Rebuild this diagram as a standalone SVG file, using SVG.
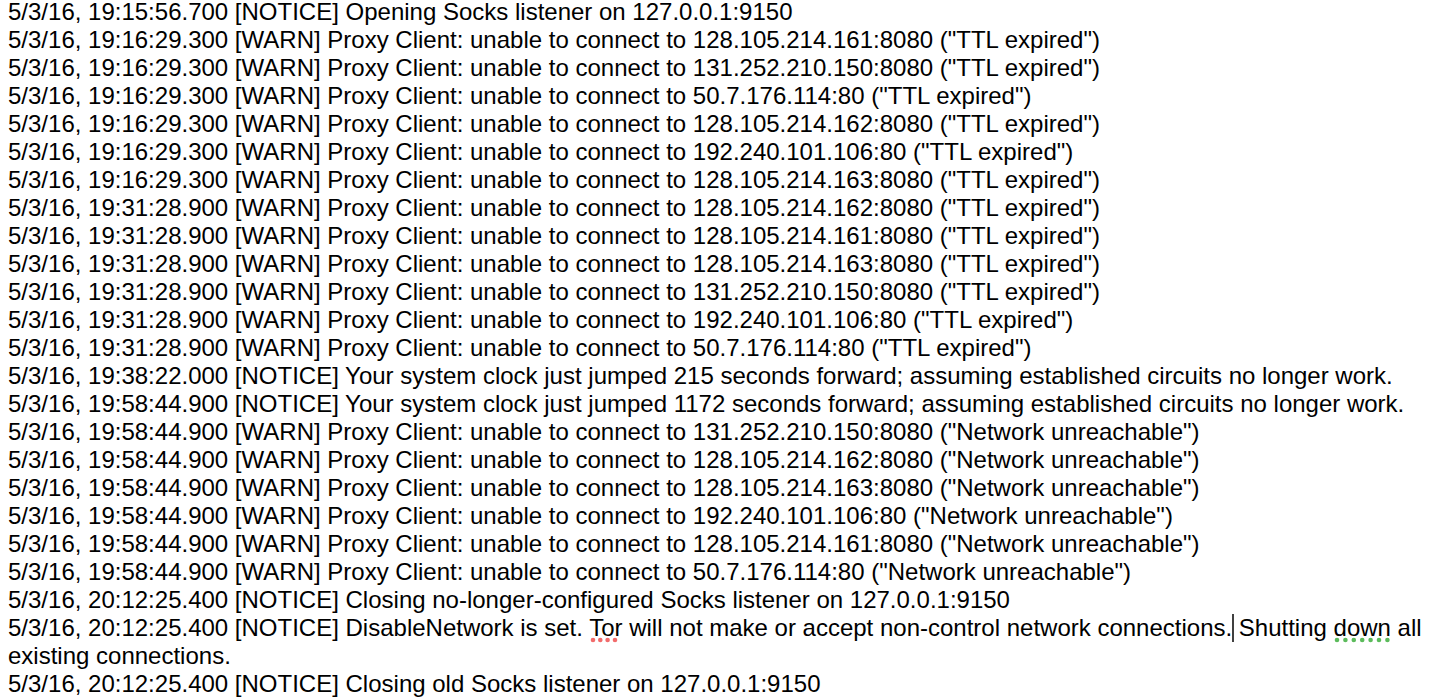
<svg xmlns="http://www.w3.org/2000/svg" width="1440" height="698" viewBox="0 0 1440 698">
<style>
text{font-family:"Liberation Sans",Arial,Helvetica,sans-serif;font-size:24px;fill:#000}
.r{fill:#f26b6b}
.g{fill:#5bbb5b}
</style>
<rect width="1440" height="698" fill="#fff"/>
<g id="log">
<text x="8" y="20">5/3/16, 19:15:56.700 [NOTICE] Opening Socks listener on 127.0.0.1:9150</text>
<text x="8" y="48">5/3/16, 19:16:29.300 [WARN] Proxy Client: unable to connect to 128.105.214.161:8080 ("TTL expired")</text>
<text x="8" y="76">5/3/16, 19:16:29.300 [WARN] Proxy Client: unable to connect to 131.252.210.150:8080 ("TTL expired")</text>
<text x="8" y="104">5/3/16, 19:16:29.300 [WARN] Proxy Client: unable to connect to 50.7.176.114:80 ("TTL expired")</text>
<text x="8" y="132">5/3/16, 19:16:29.300 [WARN] Proxy Client: unable to connect to 128.105.214.162:8080 ("TTL expired")</text>
<text x="8" y="160">5/3/16, 19:16:29.300 [WARN] Proxy Client: unable to connect to 192.240.101.106:80 ("TTL expired")</text>
<text x="8" y="188">5/3/16, 19:16:29.300 [WARN] Proxy Client: unable to connect to 128.105.214.163:8080 ("TTL expired")</text>
<text x="8" y="216">5/3/16, 19:31:28.900 [WARN] Proxy Client: unable to connect to 128.105.214.162:8080 ("TTL expired")</text>
<text x="8" y="244">5/3/16, 19:31:28.900 [WARN] Proxy Client: unable to connect to 128.105.214.161:8080 ("TTL expired")</text>
<text x="8" y="272">5/3/16, 19:31:28.900 [WARN] Proxy Client: unable to connect to 128.105.214.163:8080 ("TTL expired")</text>
<text x="8" y="300">5/3/16, 19:31:28.900 [WARN] Proxy Client: unable to connect to 131.252.210.150:8080 ("TTL expired")</text>
<text x="8" y="328">5/3/16, 19:31:28.900 [WARN] Proxy Client: unable to connect to 192.240.101.106:80 ("TTL expired")</text>
<text x="8" y="356">5/3/16, 19:31:28.900 [WARN] Proxy Client: unable to connect to 50.7.176.114:80 ("TTL expired")</text>
<text x="8" y="384">5/3/16, 19:38:22.000 [NOTICE] Your system clock just jumped 215 seconds forward; assuming established circuits no longer work.</text>
<text x="8" y="412">5/3/16, 19:58:44.900 [NOTICE] Your system clock just jumped 1172 seconds forward; assuming established circuits no longer work.</text>
<text x="8" y="440">5/3/16, 19:58:44.900 [WARN] Proxy Client: unable to connect to 131.252.210.150:8080 ("Network unreachable")</text>
<text x="8" y="468">5/3/16, 19:58:44.900 [WARN] Proxy Client: unable to connect to 128.105.214.162:8080 ("Network unreachable")</text>
<text x="8" y="496">5/3/16, 19:58:44.900 [WARN] Proxy Client: unable to connect to 128.105.214.163:8080 ("Network unreachable")</text>
<text x="8" y="524">5/3/16, 19:58:44.900 [WARN] Proxy Client: unable to connect to 192.240.101.106:80 ("Network unreachable")</text>
<text x="8" y="552">5/3/16, 19:58:44.900 [WARN] Proxy Client: unable to connect to 128.105.214.161:8080 ("Network unreachable")</text>
<text x="8" y="580">5/3/16, 19:58:44.900 [WARN] Proxy Client: unable to connect to 50.7.176.114:80 ("Network unreachable")</text>
<text x="8" y="608">5/3/16, 20:12:25.400 [NOTICE] Closing no-longer-configured Socks listener on 127.0.0.1:9150</text>
<text x="8" y="636">5/3/16, 20:12:25.400 [NOTICE] DisableNetwork is set. Tor will not make or accept non-control network connections. Shutting down all</text>
<text x="8" y="664">existing connections.</text>
<text x="8" y="692">5/3/16, 20:12:25.400 [NOTICE] Closing old Socks listener on 127.0.0.1:9150</text>
</g>
<g id="marks">
<circle class="r" cx="593" cy="640" r="2.3"/><circle class="r" cx="600.3" cy="640" r="2.3"/><circle class="r" cx="607.6" cy="640" r="2.3"/><circle class="r" cx="615" cy="640" r="2.3"/>
<circle class="g" cx="1337" cy="640" r="2.3"/><circle class="g" cx="1345.4" cy="640" r="2.3"/><circle class="g" cx="1353.8" cy="640" r="2.3"/><circle class="g" cx="1362.2" cy="640" r="2.3"/><circle class="g" cx="1370.6" cy="640" r="2.3"/><circle class="g" cx="1379" cy="640" r="2.3"/><circle class="g" cx="1387.4" cy="640" r="2.3"/>
<line x1="1233" y1="614" x2="1233" y2="642" stroke="#000" stroke-width="1.5"/>
</g>
</svg>
